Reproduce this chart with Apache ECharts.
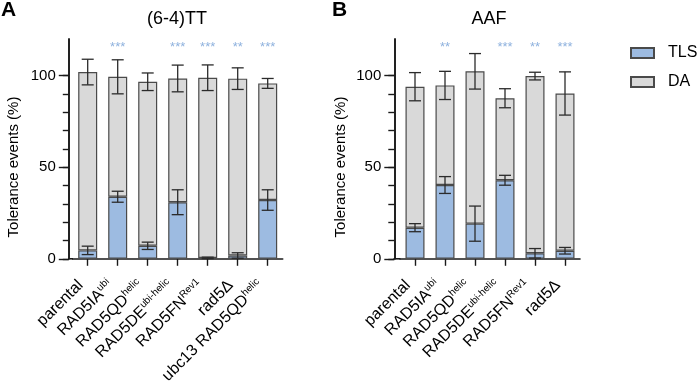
<!DOCTYPE html>
<html>
<head>
<meta charset="utf-8">
<script src="https://cdn.jsdelivr.net/npm/echarts@6/dist/echarts.min.js"></script>
<style>
    html, body { margin: 0; padding: 0; background: #fff; }
    #chart { width: 699px; height: 381px; }
</style>
</head>
<body>
<div id="chart"></div>
<script>
// panel A - (6-4)TT
var catsA = ['parental', 'RAD5IA^ubi', 'RAD5QD^helic', 'RAD5DE^ubi-helic', 'RAD5FN^Rev1', 'rad5Δ', 'ubc13 RAD5QD^helic'];
var tlsA = [4.6, 33.9, 7.1, 30.9, 0.5, 1.8, 32.1];
var tlsErrA = [2.3, 3.0, 2.0, 6.8, 0.4, 1.5, 5.6];
var daA = [97.4, 65.5, 89.6, 67.6, 98.4, 96.6, 63.7];
var totalErrA = [7.0, 9.3, 4.8, 7.3, 7.0, 5.9, 2.7];
var starsA = ['', '***', '', '***', '***', '**', '***'];

// panel B - AAF
var catsB = ['parental', 'RAD5IA^ubi', 'RAD5QD^helic', 'RAD5DE^ubi-helic', 'RAD5FN^Rev1', 'rad5Δ'];
var tlsB = [17.0, 40.3, 19.2, 42.9, 3.0, 4.4];
var tlsErrB = [2.2, 4.6, 9.6, 2.7, 2.6, 1.8];
var daB = [77.0, 54.4, 83.2, 44.8, 96.8, 85.9];
var totalErrB = [7.7, 7.7, 9.7, 5.2, 2.1, 11.8];
var starsB = ['', '**', '', '***', '**', '***'];

var minorTicks = [0, 10, 20, 30, 40, 50, 60, 70, 80, 90, 100];
var majorTicks = [0, 50, 100];

var FONT = '"Liberation Sans", Arial, sans-serif';
var TLS_COLOR = '#9dbbe1';
var DA_COLOR = '#d9d9d9';
var AXIS_COLOR = '#1a1a1a';
var STAR_LEVEL = 115.5;

var myChart = echarts.init(document.getElementById('chart'));

function catLabel(value) {
    var p = value.split('^');
    return '{m|' + p[0] + '}' + (p[1] ? '{s|' + p[1] + '}' : '');
}

function renderErr(params, api) {
    var x = api.value(0);
    var lo = api.coord([x, api.value(1)]);
    var hi = api.coord([x, api.value(2)]);
    var cap = 6;
    var style = { stroke: '#2b2b2b', lineWidth: 1.3 };
    return {
        type: 'group',
        children: [
            { type: 'line', shape: { x1: lo[0], y1: lo[1], x2: hi[0], y2: hi[1] }, style: style },
            { type: 'line', shape: { x1: lo[0] - cap, y1: lo[1], x2: lo[0] + cap, y2: lo[1] }, style: style },
            { type: 'line', shape: { x1: hi[0] - cap, y1: hi[1], x2: hi[0] + cap, y2: hi[1] }, style: style }
        ]
    };
}

function renderStars(stars) {
    return function (params, api) {
        var pt = api.coord([api.value(0), STAR_LEVEL]);
        return {
            type: 'text',
            x: pt[0],
            y: pt[1],
            style: {
                text: stars[params.dataIndex],
                fill: '#8fb2de',
                font: '13px ' + FONT,
                align: 'center',
                verticalAlign: 'middle'
            }
        };
    };
}

function xAxisFor(cats, gridIndex) {
    return {
        type: 'category',
        gridIndex: gridIndex,
        data: cats,
        axisLine: { show: true, lineStyle: { color: AXIS_COLOR, width: 1.6 } },
        axisTick: { show: true, alignWithLabel: true, length: 7, lineStyle: { color: AXIS_COLOR, width: 1.4 } },
        axisLabel: {
            interval: 0,
            rotate: 45,
            margin: 17,
            padding: [0, 10, 0, 0],
            formatter: catLabel,
            rich: {
                m: { fontSize: 16, lineHeight: 18, color: '#000', fontFamily: FONT },
                s: { fontSize: 10, lineHeight: 13, color: '#000', fontFamily: FONT, verticalAlign: 'top' }
            }
        }
    };
}

function yAxesFor(gridIndex, offset) {
    var base = {
        type: 'value',
        gridIndex: gridIndex,
        position: 'left',
        offset: offset,
        min: 0,
        max: 120,
        splitLine: { show: false },
        axisLine: { show: true, lineStyle: { color: AXIS_COLOR, width: 1.6 } }
    };
    return [
        echarts.util.merge({
            axisTick: { show: true, customValues: minorTicks, length: 6, lineStyle: { color: AXIS_COLOR, width: 1.4 } },
            axisLabel: { show: false }
        }, base, true),
        echarts.util.merge({
            axisTick: { show: true, customValues: majorTicks, length: 10, lineStyle: { color: AXIS_COLOR, width: 1.4 } },
            axisLabel: { customValues: majorTicks, margin: 13, fontSize: 15, color: '#000', fontFamily: FONT }
        }, base, true)
    ];
}

function panelSeries(tls, tlsErr, da, totalErr, stars, xi, yi, stack) {
    var barStyle = function (color) {
        return { color: color, borderColor: '#4a4a4a', borderWidth: 1.2 };
    };
    return [{
        name: 'TLS',
        type: 'bar',
        stack: stack,
        xAxisIndex: xi,
        yAxisIndex: yi,
        barWidth: 19,
        itemStyle: barStyle(TLS_COLOR),
        data: tls
    }, {
        name: 'DA',
        type: 'bar',
        stack: stack,
        xAxisIndex: xi,
        yAxisIndex: yi,
        barWidth: 19,
        itemStyle: barStyle(DA_COLOR),
        data: da
    }, {
        type: 'custom',
        xAxisIndex: xi,
        yAxisIndex: yi,
        z: 5,
        encode: { x: 0, y: [1, 2] },
        renderItem: renderErr,
        data: tls.map(function (v, i) { return [i, v - tlsErr[i], v + tlsErr[i]]; })
    }, {
        type: 'custom',
        xAxisIndex: xi,
        yAxisIndex: yi,
        z: 5,
        encode: { x: 0, y: [1, 2] },
        renderItem: renderErr,
        data: da.map(function (v, i) {
            var t = tls[i] + v;
            return [i, t - totalErr[i], t + totalErr[i]];
        })
    }, {
        type: 'custom',
        xAxisIndex: xi,
        yAxisIndex: yi,
        z: 5,
        encode: { x: 0, y: 1 },
        renderItem: renderStars(stars),
        data: stars.map(function (s, i) { return [i, STAR_LEVEL]; })
    }];
}

var titleStyle = { fill: '#000', font: '18px ' + FONT, align: 'center', verticalAlign: 'middle' };
var yNameStyle = { text: 'Tolerance events (%)', fill: '#000', font: '15px ' + FONT, align: 'center', verticalAlign: 'middle' };
var joinStyle = { stroke: AXIS_COLOR, lineWidth: 1.6 };

var option = {
    backgroundColor: '#fff',
    animation: false,
    textStyle: { fontFamily: FONT },
    legend: {
        orient: 'vertical',
        left: 630,
        top: 45,
        padding: 0,
        icon: 'rect',
        itemWidth: 23,
        itemHeight: 10,
        itemGap: 13,
        data: ['TLS', 'DA'],
        textStyle: { color: '#000', fontSize: 16, fontFamily: FONT, padding: [0, 0, 0, 9] }
    },
    grid: [
        { left: 72.7, top: 39.1, width: 210, bottom: 122.2, outerBoundsMode: 'none', containLabel: false },
        { left: 400, top: 39.1, width: 180, bottom: 122.2, outerBoundsMode: 'none', containLabel: false }
    ],
    xAxis: [
        xAxisFor(catsA, 0),
        xAxisFor(catsB, 1)
    ],
    yAxis: yAxesFor(0, 3.9).concat(yAxesFor(1, 5.7)),
    series: panelSeries(tlsA, tlsErrA, daA, totalErrA, starsA, 0, 0, 'a')
        .concat(panelSeries(tlsB, tlsErrB, daB, totalErrB, starsB, 1, 2, 'b')),
    graphic: [
        { type: 'text', left: 1, top: 0, style: { text: 'A', fill: '#000', font: 'bold 21px ' + FONT } },
        { type: 'text', left: 332, top: 0, style: { text: 'B', fill: '#000', font: 'bold 21px ' + FONT } },
        { type: 'text', x: 177, y: 19, style: echarts.util.extend({ text: '(6-4)TT' }, titleStyle) },
        { type: 'text', x: 489, y: 19, style: echarts.util.extend({ text: 'AAF' }, titleStyle) },
        { type: 'text', x: 14, y: 167, rotation: Math.PI / 2, style: yNameStyle },
        { type: 'text', x: 341, y: 167, rotation: Math.PI / 2, style: yNameStyle },
        // x axis line runs on to the offset y axis
        { type: 'line', shape: { x1: 68, y1: 258.8, x2: 73, y2: 258.8 }, style: joinStyle },
        { type: 'line', shape: { x1: 393.5, y1: 258.8, x2: 400.5, y2: 258.8 }, style: joinStyle }
    ]
};

myChart.setOption(option);
</script>
</body>
</html>
